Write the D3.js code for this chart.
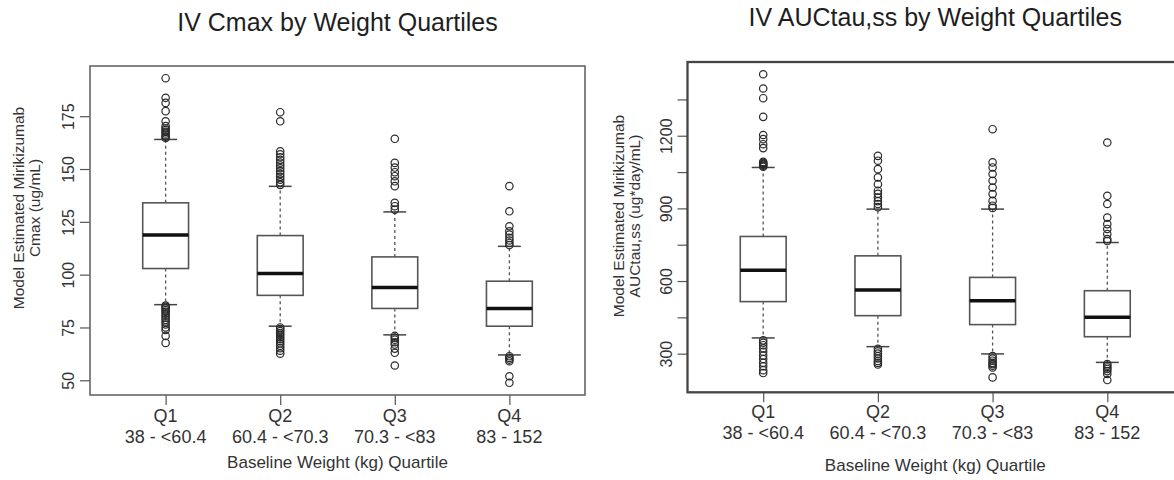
<!DOCTYPE html>
<html>
<head>
<meta charset="utf-8">
<script src="https://cdn.jsdelivr.net/npm/d3@7"></script>
<style>
  html, body { margin: 0; padding: 0; background: #fff; }
  svg { display: block; font-family: "Liberation Sans", Arial, sans-serif; }
</style>
</head>
<body>
<script>
// ---------------- DATA ----------------
const categories = ["Q1", "Q2", "Q3", "Q4"];
const rangeLabels = ["38 - <60.4", "60.4 - <70.3", "70.3 - <83", "83 - 152"];

// Cmax (ug/mL)
const cmaxLowerWhisker = [85.8, 75.6, 71.5, 62];
const cmaxQ1 = [102.9, 90.2, 84, 75.6];
const cmaxMedian = [118.8, 100.5, 93.9, 84];
const cmaxQ3 = [134, 118.5, 108.4, 96.9];
const cmaxUpperWhisker = [164, 141.8, 129.7, 113.4];
const cmaxOutliers = [
  [193, 183.7, 181.3, 177.4, 172.6, 170.3, 169.2, 168.4, 167.6, 166.8, 166, 165.3, 164.7,
   85.4, 84.8, 84, 83.2, 82.4, 81.5, 80.6, 79.6, 78.6, 77.5, 76.4, 75, 73.8, 71, 67.7],
  [176.9, 172.6, 158.4, 157, 155.6, 154.3, 153, 151.7, 150.4, 149, 147.7, 146.3, 145, 143.7, 142.5,
   75, 74.2, 73.3, 72.4, 71.5, 70.5, 69.5, 68.5, 67.5, 66.4, 65.2, 64, 62.6],
  [164.3, 152.9, 150.7, 148.5, 146.6, 144.2, 141.9, 134, 132.4, 130.8,
   71, 70.2, 69.2, 68, 66.9, 65, 63, 57],
  [141.9, 130, 122.9, 120.5, 119, 117.4, 116.2, 115, 114,
   61.4, 60.6, 59.8, 59, 51.9, 48.8]
];
const cmaxTicks = [50, 75, 100, 125, 150, 175];
const cmaxTickLabels = [50, 75, 100, 125, 150, 175];

// AUCtau,ss (ug*day/mL)
const aucLowerWhisker = [365, 329, 299, 264];
const aucQ1 = [515, 457, 420, 370];
const aucMedian = [645, 563, 519, 450];
const aucQ3 = [784, 704, 615, 560];
const aucUpperWhisker = [1069, 897, 897, 759];
const aucOutliers = [
  [1454, 1395, 1355, 1278, 1203, 1186, 1165, 1149, 1092, 1088, 1084, 1080, 1076, 1072,
   355, 345, 335, 322, 308, 292, 278, 262, 248, 232, 220],
  [1117, 1097, 1062, 1028, 1000, 973, 960, 945, 930, 918, 905,
   320, 310, 300, 290, 280, 270, 262, 255],
  [1227, 1090, 1069, 1042, 1014, 986, 959, 931, 911, 902,
   290, 280, 271, 262, 257, 250, 243, 202],
  [1172, 952, 918, 862, 835, 815, 794, 773, 765,
   257, 250, 243, 237, 228, 216, 191]
];
const aucTicks = [300, 450, 600, 750, 900, 1050, 1200, 1350];
const aucTickLabels = [300, 600, 900, 1200];

// ---------------- DRAW ----------------
const svg = d3.select("body").append("svg").attr("width", 1174).attr("height", 480);

function extent4(arrs) {
  const all = arrs.flat(2);
  const lo = d3.min(all), hi = d3.max(all);
  const pad = (hi - lo) * 0.04;
  return [lo - pad, hi + pad];
}

function panel(cfg) {
  const g = svg.append("g");
  const x = d3.scaleLinear().domain([0.34, 4.66]).range([cfg.left, cfg.right]);
  const y = d3.scaleLinear()
    .domain(extent4([cfg.lw, cfg.uw, cfg.out]))
    .range([cfg.bottom, cfg.top]);

  const bw = x(1.4) - x(1);
  const cap = bw / 2;

  g.append("text")
    .attr("x", (cfg.left + cfg.right) / 2 + cfg.titleDx)
    .attr("y", cfg.titleY)
    .attr("text-anchor", "middle")
    .attr("font-size", 25)
    .attr("fill", "#1e1e1e")
    .text(cfg.title);

  const yAxis = d3.axisLeft(y).tickValues(cfg.ticks).tickSize(10)
    .tickFormat(d => cfg.tickLabels.includes(d) ? String(d) : "");
  const ya = g.append("g").attr("transform", `translate(${cfg.left},0)`).call(yAxis);
  ya.select(".domain").remove();
  ya.selectAll(".tick line").attr("stroke", "#555").attr("stroke-width", 1.2);
  ya.selectAll(".tick text")
    .attr("x", 0).attr("y", -cfg.ylabOff).attr("dy", "0.35em")
    .attr("transform", "rotate(-90)")
    .attr("text-anchor", "middle")
    .attr("font-size", 16).attr("fill", "#333")
    .style("font-family", "Liberation Sans, Arial, sans-serif");

  const xAxis = d3.axisBottom(x).tickValues([1, 2, 3, 4]).tickSize(10).tickFormat("");
  const xa = g.append("g").attr("transform", `translate(0,${cfg.bottom})`).call(xAxis);
  xa.select(".domain").remove();
  xa.selectAll(".tick line").attr("stroke", "#555").attr("stroke-width", 1.2);

  categories.forEach((c, i) => {
    g.append("text").attr("x", x(i + 1)).attr("y", cfg.bottom + cfg.xl1)
      .attr("text-anchor", "middle").attr("font-size", 18).attr("fill", "#333").text(c);
    g.append("text").attr("x", x(i + 1)).attr("y", cfg.bottom + cfg.xl2)
      .attr("text-anchor", "middle").attr("font-size", 18).attr("fill", "#333").text(rangeLabels[i]);
  });

  g.append("text")
    .attr("x", (cfg.left + cfg.right) / 2)
    .attr("y", cfg.xtitleY)
    .attr("text-anchor", "middle").attr("font-size", 17).attr("fill", "#333")
    .text("Baseline Weight (kg) Quartile");

  cfg.ytitle.forEach((t, k) => {
    g.append("text")
      .attr("transform", `translate(${cfg.ytitleX[k]},${cfg.ytitleCy}) rotate(-90)`)
      .attr("text-anchor", "middle").attr("dy", "0.35em")
      .attr("font-size", 15.5).attr("fill", "#333")
      .text(t);
  });

  categories.forEach((c, i) => {
    const cx = x(i + 1);
    const bg = g.append("g");
    bg.append("line").attr("x1", cx).attr("x2", cx)
      .attr("y1", y(cfg.q3[i])).attr("y2", y(cfg.uw[i]))
      .attr("stroke", "#555").attr("stroke-width", 1.3).attr("stroke-dasharray", "3,3");
    bg.append("line").attr("x1", cx).attr("x2", cx)
      .attr("y1", y(cfg.q1[i])).attr("y2", y(cfg.lw[i]))
      .attr("stroke", "#555").attr("stroke-width", 1.3).attr("stroke-dasharray", "3,3");
    [cfg.uw[i], cfg.lw[i]].forEach(v => {
      bg.append("line").attr("x1", cx - cap / 2).attr("x2", cx + cap / 2)
        .attr("y1", y(v)).attr("y2", y(v))
        .attr("stroke", "#444").attr("stroke-width", 1.5);
    });
    bg.append("rect")
      .attr("x", cx - bw / 2).attr("width", bw)
      .attr("y", y(cfg.q3[i])).attr("height", y(cfg.q1[i]) - y(cfg.q3[i]))
      .attr("fill", "#fff").attr("stroke", "#555").attr("stroke-width", 1.6);
    bg.append("line").attr("x1", cx - bw / 2).attr("x2", cx + bw / 2)
      .attr("y1", y(cfg.med[i])).attr("y2", y(cfg.med[i]))
      .attr("stroke", "#111").attr("stroke-width", 3.5);
    bg.selectAll("circle").data(cfg.out[i]).join("circle")
      .attr("cx", cx).attr("cy", d => y(d)).attr("r", 3.7)
      .attr("fill", "none").attr("stroke", "#2a2a2a").attr("stroke-width", 1.2);
  });

  g.append("rect")
    .attr("x", cfg.left).attr("y", cfg.top)
    .attr("width", cfg.right - cfg.left).attr("height", cfg.bottom - cfg.top)
    .attr("fill", "none").attr("stroke", cfg.frameColor).attr("stroke-width", cfg.frameWidth);
}

panel({
  left: 90, right: 585, top: 66, bottom: 395,
  lw: cmaxLowerWhisker, q1: cmaxQ1, med: cmaxMedian, q3: cmaxQ3, uw: cmaxUpperWhisker, out: cmaxOutliers,
  ticks: cmaxTicks, tickLabels: cmaxTickLabels, ylabOff: 22,
  title: "IV Cmax by Weight Quartiles", titleY: 31, titleDx: 0,
  xl1: 27, xl2: 48, xtitleY: 468,
  ytitle: ["Model Estimated Mirikizumab", "Cmax (ug/mL)"], ytitleX: [19, 35], ytitleCy: 208,
  frameColor: "#666", frameWidth: 1.6
});

panel({
  left: 687.5, right: 1183, top: 62, bottom: 392.3,
  lw: aucLowerWhisker, q1: aucQ1, med: aucMedian, q3: aucQ3, uw: aucUpperWhisker, out: aucOutliers,
  ticks: aucTicks, tickLabels: aucTickLabels, ylabOff: 21,
  title: "IV AUCtau,ss by Weight Quartiles", titleY: 26, titleDx: 0,
  xl1: 26, xl2: 47, xtitleY: 471,
  ytitle: ["Model Estimated Mirikizumab", "AUCtau,ss (ug*day/mL)"], ytitleX: [619, 635], ytitleCy: 216,
  frameColor: "#444", frameWidth: 2.3
});
</script>
</body>
</html>
